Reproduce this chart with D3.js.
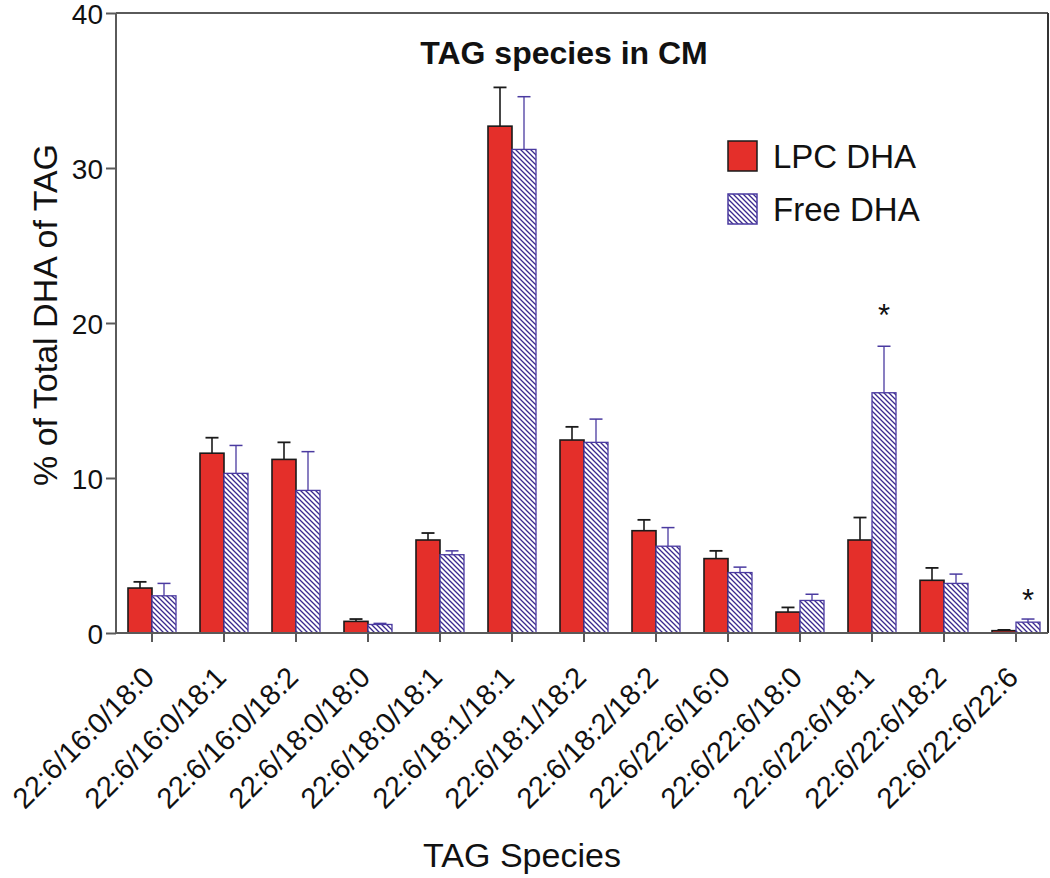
<!DOCTYPE html>
<html>
<head>
<meta charset="utf-8">
<script src="https://cdn.jsdelivr.net/npm/d3@7/dist/d3.min.js"></script>
<style>
  html, body { margin: 0; padding: 0; background: #fff; }
  svg { display: block; font-family: "Liberation Sans", Arial, sans-serif; }
</style>
</head>
<body>
<svg id="chart" width="1050" height="878"></svg>
<script>
// ---- data ----
const categories = [
  "22:6/16:0/18:0", "22:6/16:0/18:1", "22:6/16:0/18:2", "22:6/18:0/18:0",
  "22:6/18:0/18:1", "22:6/18:1/18:1", "22:6/18:1/18:2", "22:6/18:2/18:2",
  "22:6/22:6/16:0", "22:6/22:6/18:0", "22:6/22:6/18:1", "22:6/22:6/18:2",
  "22:6/22:6/22:6"
];
const seriesNames = ["LPC DHA", "Free DHA"];
const lpcMean = [2.9, 11.6, 11.2, 0.75, 6.0, 32.7, 12.45, 6.6, 4.8, 1.35, 6.0, 3.4, 0.15];
const lpcSem  = [0.4, 1.0, 1.1, 0.15, 0.45, 2.5, 0.85, 0.7, 0.5, 0.3, 1.45, 0.8, 0.05];
const freeMean = [2.4, 10.3, 9.2, 0.55, 5.05, 31.2, 12.3, 5.6, 3.9, 2.1, 15.5, 3.2, 0.7];
const freeSem  = [0.8, 1.8, 2.5, 0.07, 0.25, 3.4, 1.5, 1.2, 0.35, 0.4, 3.0, 0.6, 0.2];
const sigMarks = [
  { category: "22:6/22:6/18:1", series: "Free DHA", level: 21.0 },
  { category: "22:6/22:6/22:6", series: "Free DHA", level: 2.6 }
];
const yTicks = [0, 10, 20, 30, 40];
const chartTitle = "TAG species in CM";
const xTitle = "TAG Species";
const yTitle = "% of Total DHA of TAG";

// ---- setup ----
const svg = d3.select("#chart");
const font = '"Liberation Sans", Arial, sans-serif';
const red = "#e42f2a";
const navy = "#3b2a8e";
const axisCol = "#5a5a5a";

const pLeft = 116, pRight = 1048, pTop = 13, pBottom = 633;

const x = d3.scaleBand().domain(categories).range([pLeft, pLeft + 72 * categories.length]);
const xs = d3.scaleBand().domain(seriesNames).range([x.bandwidth() / 2 - 24, x.bandwidth() / 2 + 24]);
const y = d3.scaleLinear().domain([0, 40]).range([pBottom, pTop]);

// hatch pattern
const defs = svg.append("defs");
const pat = defs.append("pattern")
  .attr("id", "hatch").attr("patternUnits", "userSpaceOnUse")
  .attr("width", 5).attr("height", 5);
pat.append("rect").attr("width", 5).attr("height", 5).attr("fill", "#fff");
pat.append("path")
  .attr("d", "M-1,-1 L6,6 M-1,4 L1,6 M4,-1 L6,1")
  .attr("stroke", navy).attr("stroke-width", 1.3).attr("fill", "none");

// rows
const rows = categories.map((c, i) => ({
  category: c,
  values: [
    { series: "LPC DHA", mean: lpcMean[i], sem: lpcSem[i] },
    { series: "Free DHA", mean: freeMean[i], sem: freeSem[i] }
  ]
}));

// frame (top and right)
svg.append("line").attr("x1", pLeft).attr("x2", pRight).attr("y1", pTop).attr("y2", pTop)
  .attr("stroke", axisCol).attr("stroke-width", 2);
svg.append("line").attr("x1", pRight).attr("x2", pRight).attr("y1", pTop).attr("y2", pBottom)
  .attr("stroke", "#333").attr("stroke-width", 2);

// bars
const groups = svg.append("g").selectAll("g").data(rows).join("g")
  .attr("transform", d => `translate(${x(d.category)},0)`);

groups.selectAll("rect").data(d => d.values).join("rect")
  .attr("x", d => xs(d.series))
  .attr("width", xs.bandwidth())
  .attr("y", d => y(d.mean))
  .attr("height", d => y(0) - y(d.mean))
  .attr("fill", d => d.series === "LPC DHA" ? red : "url(#hatch)")
  .attr("stroke", d => d.series === "LPC DHA" ? "#1a1a1a" : "#4a3aa0")
  .attr("stroke-width", d => d.series === "LPC DHA" ? 1.6 : 1.3);

// error bars (upper only)
const eb = groups.selectAll("g.err").data(d => d.values).join("g").attr("class", "err");
eb.append("line")
  .attr("x1", d => xs(d.series) + xs.bandwidth() / 2)
  .attr("x2", d => xs(d.series) + xs.bandwidth() / 2)
  .attr("y1", d => y(d.mean))
  .attr("y2", d => y(d.mean + d.sem))
  .attr("stroke", d => d.series === "LPC DHA" ? "#1a1a1a" : "#4a3aa0")
  .attr("stroke-width", d => d.series === "LPC DHA" ? 1.6 : 1.3);
eb.append("line")
  .attr("x1", d => xs(d.series) + xs.bandwidth() / 2 - 6.5)
  .attr("x2", d => xs(d.series) + xs.bandwidth() / 2 + 6.5)
  .attr("y1", d => y(d.mean + d.sem))
  .attr("y2", d => y(d.mean + d.sem))
  .attr("stroke", d => d.series === "LPC DHA" ? "#1a1a1a" : "#4a3aa0")
  .attr("stroke-width", d => d.series === "LPC DHA" ? 1.8 : 1.5);

// significance asterisks
svg.append("g").selectAll("text").data(sigMarks).join("text")
  .attr("x", d => x(d.category) + xs(d.series) + xs.bandwidth() / 2)
  .attr("y", d => y(d.level) + 18)
  .attr("text-anchor", "middle")
  .attr("font-size", 31)
  .attr("fill", "#111")
  .text("*");

// y axis
const yAxis = svg.append("g").attr("transform", `translate(${pLeft},0)`)
  .call(d3.axisLeft(y).tickValues(yTicks).tickSize(10).tickPadding(3).tickFormat(d3.format("d")));
yAxis.select(".domain").attr("stroke", axisCol).attr("stroke-width", 2)
  .attr("d", `M0,${pTop}V${pBottom}`);
yAxis.selectAll(".tick line").attr("stroke", axisCol).attr("stroke-width", 2);
yAxis.selectAll(".tick text").attr("font-size", 28).attr("font-family", font).attr("fill", "#111")
  .attr("dy", "0.36em");

// x axis
const xAxis = svg.append("g").attr("transform", `translate(0,${pBottom})`)
  .call(d3.axisBottom(x).tickSize(9).tickSizeOuter(0));
xAxis.select(".domain").attr("stroke", axisCol).attr("stroke-width", 2)
  .attr("d", `M${pLeft},0H${pRight}`);
xAxis.selectAll(".tick line").attr("stroke", axisCol).attr("stroke-width", 2);
xAxis.selectAll(".tick text")
  .attr("font-size", 29).attr("font-family", font).attr("fill", "#111")
  .attr("text-anchor", "end")
  .attr("dy", 0)
  .attr("y", 0)
  .attr("transform", "translate(4,46) rotate(-45)");

// titles
svg.append("text").attr("x", 564).attr("y", 64).attr("text-anchor", "middle")
  .attr("font-size", 32).attr("font-weight", "bold").attr("fill", "#111").text(chartTitle);
svg.append("text").attr("x", 522).attr("y", 867).attr("text-anchor", "middle")
  .attr("font-size", 34).attr("fill", "#111").text(xTitle);
svg.append("text").attr("transform", "translate(57,315) rotate(-90)").attr("text-anchor", "middle")
  .attr("font-size", 34).attr("fill", "#111").text(yTitle);

// legend
const legend = svg.append("g").selectAll("g").data(seriesNames).join("g")
  .attr("transform", (d, i) => `translate(728,${141 + i * 53})`);
legend.append("rect").attr("width", 29).attr("height", 30)
  .attr("fill", d => d === "LPC DHA" ? red : "url(#hatch)")
  .attr("stroke", d => d === "LPC DHA" ? "#1a1a1a" : "#4a3aa0")
  .attr("stroke-width", 1.5);
legend.append("text").attr("x", 45).attr("y", 27)
  .attr("font-size", 33).attr("fill", "#111").text(d => d);
</script>
</body>
</html>
